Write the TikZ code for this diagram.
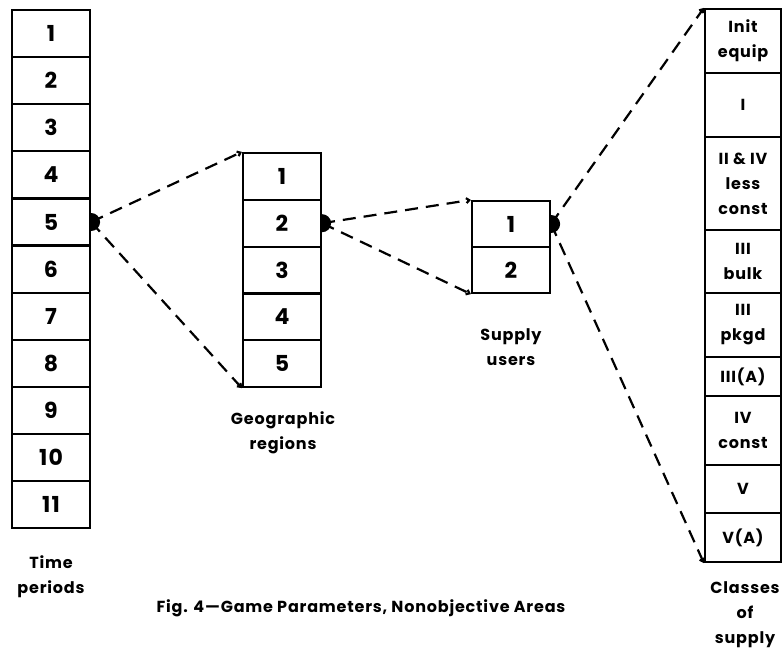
\documentclass[tikz,border=0pt]{standalone}
\usepackage{fontspec}
\setmainfont{Poppins}[LetterSpace=5]
\usetikzlibrary{arrows.meta}
\tikzset{
  cell/.style={draw, line width=2.2pt, inner sep=0pt, align=center,
    minimum width=78pt, font=\fontsize{22}{24}\selectfont\bfseries},
  tcell/.style={cell, minimum height=47.1pt},
  gcell/.style={cell, minimum height=46.8pt},
  ucell/.style={cell, minimum height=46pt},
  ccell/.style={cell, minimum width=76pt, font=\fontsize{16}{25}\selectfont\bfseries},
  link/.style={dash pattern=on 13pt off 8pt, line width=2.2pt,
    -{Straight Barb[length=3pt,width=5pt]}},
  title/.style={align=center, font=\fontsize{16}{25}\selectfont\bfseries}
}
\newcommand{\knob}[1]{\fill ([yshift=9pt]#1.east) arc[start angle=90, end angle=-90, radius=9pt] -- cycle;}
\begin{document}
\begin{tikzpicture}[x=1pt,y=-1pt]
  \useasboundingbox (0,0) rectangle (784,662);
  % time periods
  \draw
    (51,33.5) node[tcell] (t1){1}
    (51,80.6) node[tcell] (t2){2}
    (51,127.7) node[tcell] (t3){3}
    (51,174.9) node[tcell] (t4){4}
    (51,222.0) node[tcell] (t5){5}
    (51,269.1) node[tcell] (t6){6}
    (51,316.2) node[tcell] (t7){7}
    (51,363.3) node[tcell] (t8){8}
    (51,410.4) node[tcell] (t9){9}
    (51,457.5) node[tcell] (t10){10}
    (51,504.6) node[tcell] (t11){11};
  % geographic regions
  \draw
    (282,176.4) node[gcell] (g1){1}
    (282,223.2) node[gcell] (g2){2}
    (282,270.0) node[gcell] (g3){3}
    (282,316.8) node[gcell] (g4){4}
    (282,363.6) node[gcell] (g5){5};
  % supply users
  \draw
    (511,224) node[ucell] (u1){1}
    (511,270) node[ucell] (u2){2};
  % classes of supply
  \draw
    (743,41.0) node[ccell, minimum height=64pt] (c1){Init\\equip}
    (743,105.0) node[ccell, minimum height=64pt] (c2){I}
    (743,183.5) node[ccell, minimum height=93pt] (c3){II \& IV\\less\\const}
    (743,261.5) node[ccell, minimum height=63pt] (c4){III\\bulk}
    (743,325.0) node[ccell, minimum height=64pt] (c5){III\\pkgd}
    (743,376.5) node[ccell, minimum height=39pt] (c6){III(A)}
    (743,430.5) node[ccell, minimum height=69pt] (c7){IV\\const}
    (743,489.0) node[ccell, minimum height=48pt] (c8){V}
    (743,537.5) node[ccell, minimum height=49pt] (c9){V(A)};
  % titles
  \draw
    (51,577) node[title] (tt){Time\\periods}
    (283,433) node[title] (gt){Geographic\\regions}
    (511,347) node[title] (ut){Supply\\users}
    (745,615) node[title] (ct){Classes\\of\\supply}
    (361,608) node[title] (fig){Fig. 4---Game Parameters, Nonobjective Areas};
  % links
  \draw[link] (t5.east) to (g1.north west);
  \draw[link] (t5.east) to (g5.south west);
  \draw[link] (g2.east) to (u1.north west);
  \draw[link] (g2.east) to (u2.south west);
  \draw[link] (u1.east) to (c1.north west);
  \draw[link] (u1.east) to (c9.south west);
  \knob{t5}
  \knob{g2}
  \knob{u1}
\end{tikzpicture}
\end{document}
